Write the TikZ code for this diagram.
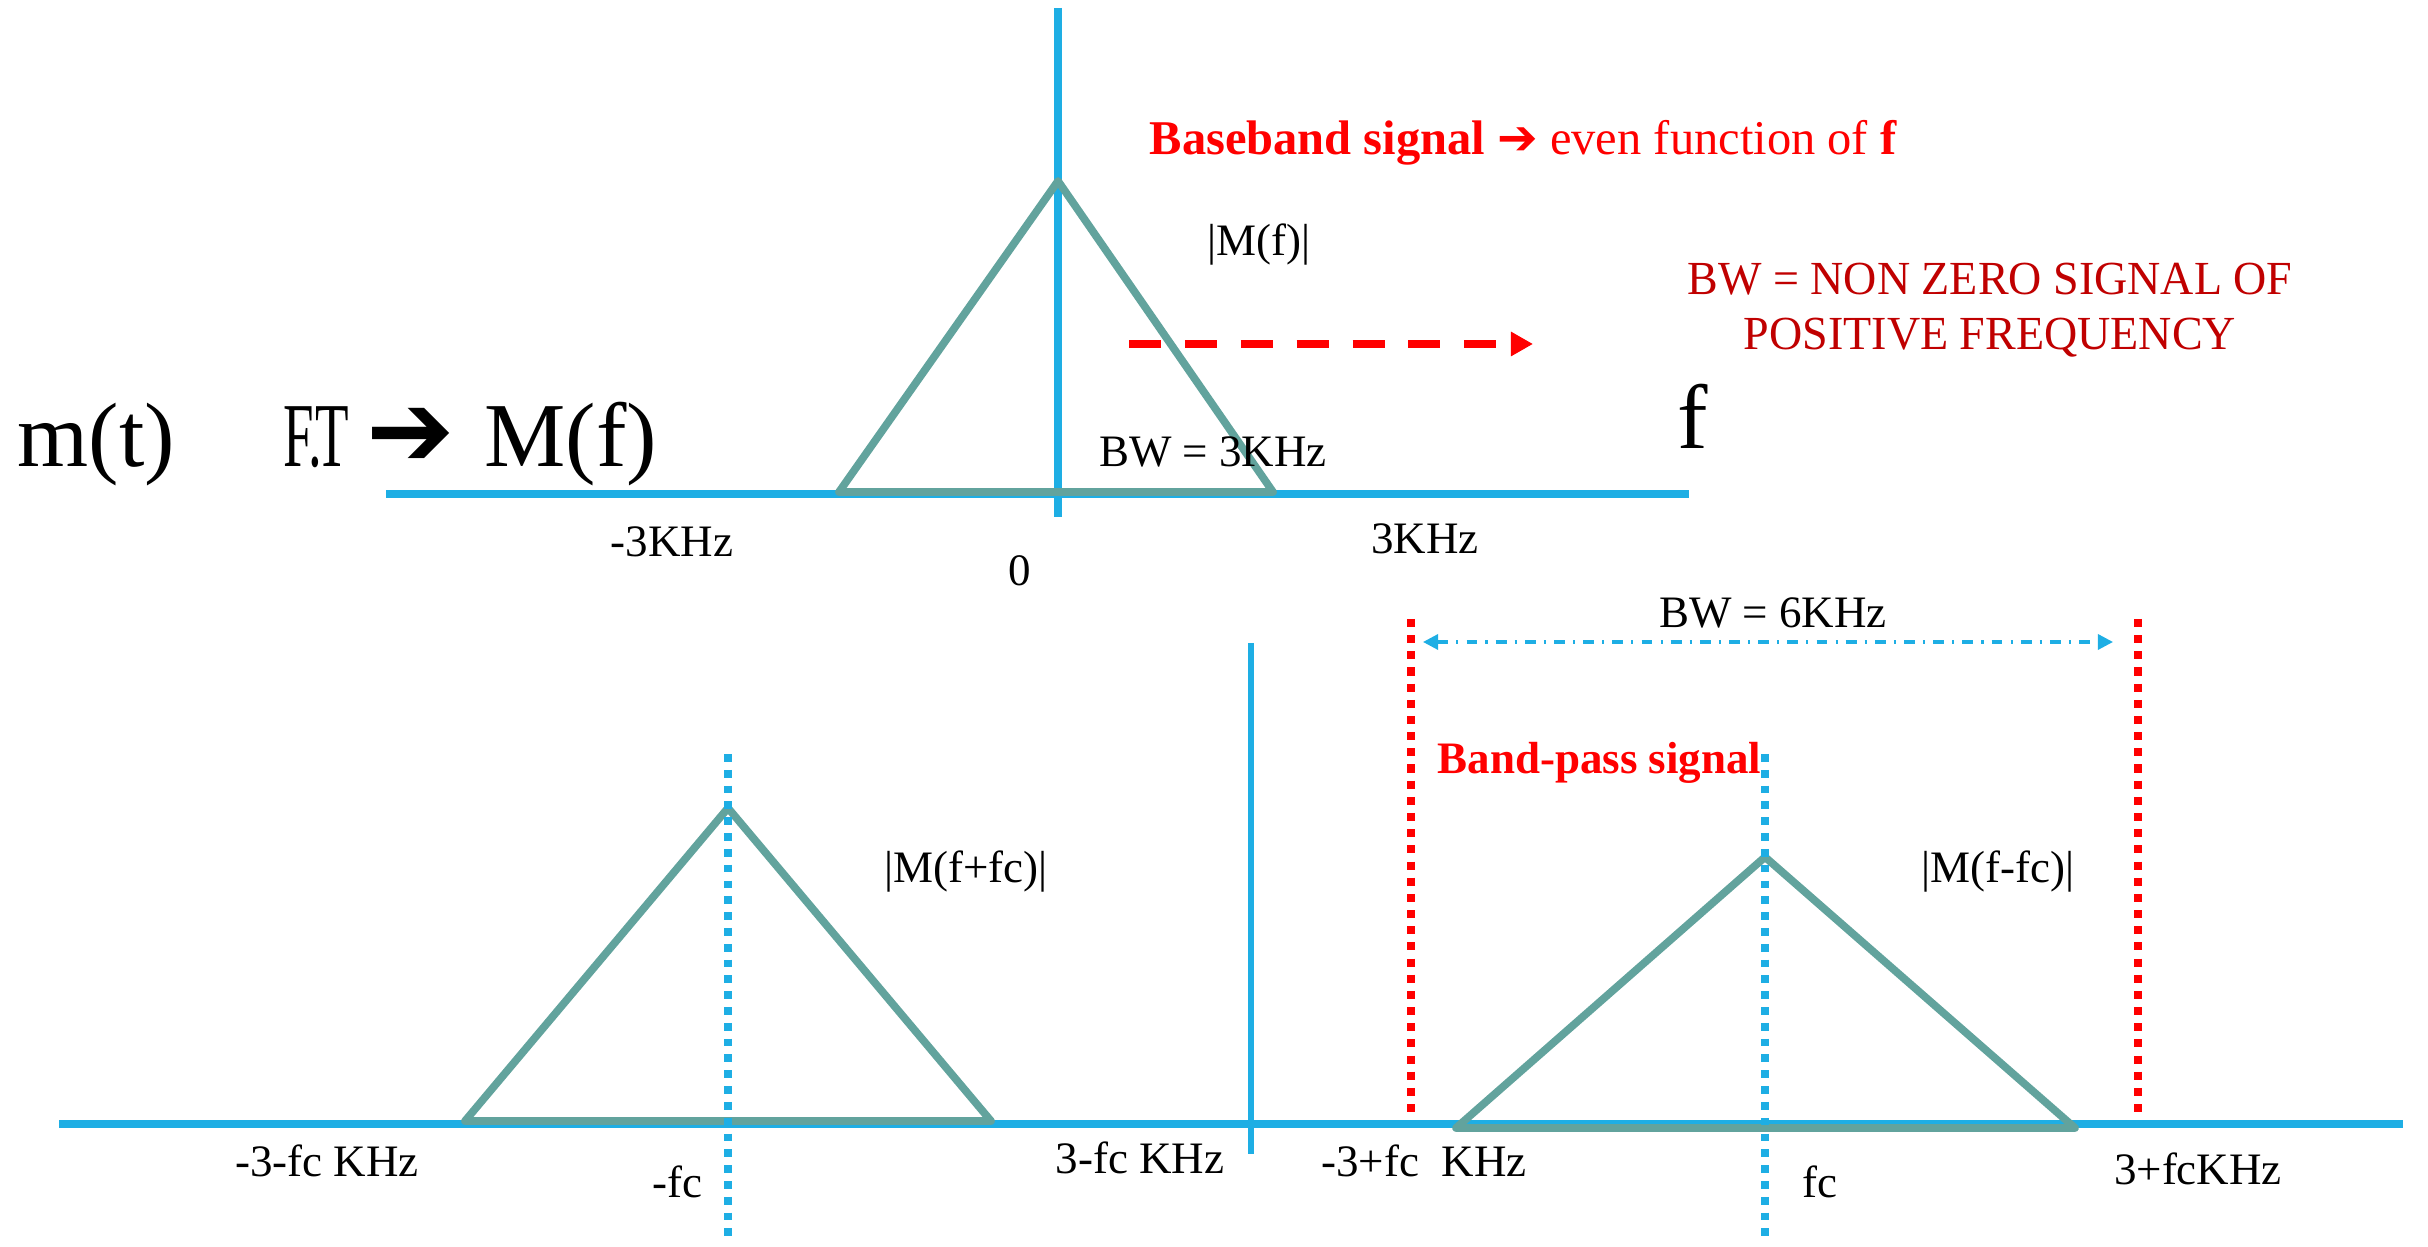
\documentclass[tikz,border=0pt]{standalone}
\usepackage{fontspec}
\setmainfont{Liberation Serif}
\newfontfamily\sym{DejaVu Sans}
\usetikzlibrary{arrows.meta}
\definecolor{axblue}{RGB}{30,174,228}
\definecolor{triteal}{RGB}{98,163,157}
\definecolor{dred}{RGB}{192,0,0}
\begin{document}
\begin{tikzpicture}[x=0.1mm,y=-0.1mm,
 lbl/.style={inner sep=0,font=\fontsize{12.8}{15}\selectfont},
 redlbl/.style={inner sep=0,text=red,font=\fontsize{13.8}{16}\selectfont},
 dredlbl/.style={inner sep=0,text=dred,font=\fontsize{13.5}{16}\selectfont},
 big/.style={inner sep=0,font=\fontsize{26}{30}\selectfont},
 axisline/.style={draw=axblue,line width=2.1pt},
 tri/.style={draw=triteal,line width=2.2pt,line join=round},
 reddot/.style={draw=red,line width=2.3pt,dash pattern=on 2.3pt off 2.3pt},
 bluedot/.style={draw=axblue,line width=2.1pt,dash pattern=on 2.2pt off 2.3pt},
]
\useasboundingbox (0,0) rectangle (2428,1247);

% ---------- top spectrum ----------
\coordinate (tl) at (386,494);
\coordinate (tr) at (1689,494);
\coordinate (vt) at (1058,8);
\coordinate (vb) at (1058,517);
\coordinate (ta) at (1058,181);
\coordinate (tbl) at (839,492);
\coordinate (tbr) at (1273,492);
\draw[axisline] (tl) -- (tr);
\draw[axisline] (vt) -- (vb);
\draw[tri] (tbl) -- (ta) -- (tbr) -- cycle;

\coordinate (da) at (1129,344);
\coordinate (db) at (1533,344);
\draw[red,line width=2.3pt,dash pattern=on 9.1pt off 6.8pt,
  -{Triangle[length=6.3pt,width=6.6pt]}] (da) -- (db);

\node[big,anchor=base west] (mt) at (17,467) {m(t)};
\node[big,anchor=base west] (ft) at (283,467) {\scalebox{0.6}[1]{F\kern-0.1em.\kern-0.12em T}};
\node[big,anchor=base west] (ftarr) at (366,467) {{\sym\fontsize{30}{34}\selectfont ➔}};
\node[big,anchor=base west] (Mf) at (484,467) {M(f)};
\node[big,anchor=base] (fbig) at (1693,449) {f};

\node[redlbl,anchor=base west] (bb) at (1149,155)
  {{\bfseries Baseband signal} {\sym\bfseries ➔} even function of {\bfseries f}};
\node[lbl] (Mabs) at (1259,245) {|M(f)|};
\node[dredlbl,anchor=base] (bw1) at (1990,295) {\scalebox{0.97}[1]{BW = NON ZERO SIGNAL OF}};
\node[dredlbl,anchor=base] (bw2) at (1990,350) {\scalebox{0.97}[1]{POSITIVE FREQUENCY}};
\node[lbl] (bw3) at (1213,452) {BW = 3KHz};
\node[lbl] (m3) at (672,542) {-3KHz};
\node[lbl] (zero) at (1020,571) {0};
\node[lbl] (p3) at (1425,539) {3KHz};

% ---------- bottom spectrum ----------
\coordinate (bl) at (59,1124);
\coordinate (br) at (2403,1124);
\coordinate (cvt) at (1251,643);
\coordinate (cvb) at (1251,1154);
\draw[axisline,line width=2.3pt] (bl) -- (br);
\draw[axisline,line width=1.6pt] (cvt) -- (cvb);

\coordinate (la) at (728,808);
\coordinate (lbl1) at (465,1121);
\coordinate (lbr) at (991,1121);
\draw[tri] (lbl1) -- (la) -- (lbr) -- cycle;

\coordinate (ra) at (1765,857);
\coordinate (rbl) at (1456,1128);
\coordinate (rbr) at (2075,1128);
\draw[tri] (rbl) -- (ra) -- (rbr) -- cycle;

\coordinate (lvt) at (728,754);
\coordinate (lvb) at (728,1239);
\coordinate (rvt) at (1765,754);
\coordinate (rvb) at (1765,1239);
\draw[bluedot] (lvt) -- (lvb);
\draw[bluedot] (rvt) -- (rvb);

\coordinate (r1t) at (1411,619);
\coordinate (r1b) at (1411,1120);
\coordinate (r2t) at (2138,619);
\coordinate (r2b) at (2138,1120);
\draw[reddot] (r1t) -- (r1b);
\draw[reddot] (r2t) -- (r2b);

\coordinate (bwa) at (1423,642);
\coordinate (bwb) at (2113,642);
\draw[axblue,line width=0.9pt,dash pattern=on 3.1pt off 2.3pt on 0.6pt off 2.3pt,
  {Triangle[length=4.3pt,width=4.3pt]}-{Triangle[length=4.3pt,width=4.3pt]}] (bwa) -- (bwb);

\node[lbl] (bw6) at (1773,613) {BW = 6KHz};
\node[redlbl,font=\fontsize{12.8}{15}\selectfont\bfseries,anchor=west] (bp) at (1437,763) {Band-pass signal};
\node[lbl] (Mp) at (966,872) {|M(f+fc)|};
\node[lbl] (Mm) at (1998,872) {|M(f-fc)|};

\node[lbl] (b1) at (327,1161) {-3-fc KHz};
\node[lbl] (b2) at (677,1182) {-fc};
\node[lbl] (b3) at (1140,1158) {3-fc KHz};
\node[lbl] (b4) at (1424,1161) {-3+fc\hspace{0.5em}KHz};
\node[lbl] (b5) at (1820,1182) {fc};
\node[lbl] (b6) at (2198,1169) {3+fcKHz};
\end{tikzpicture}
\end{document}
